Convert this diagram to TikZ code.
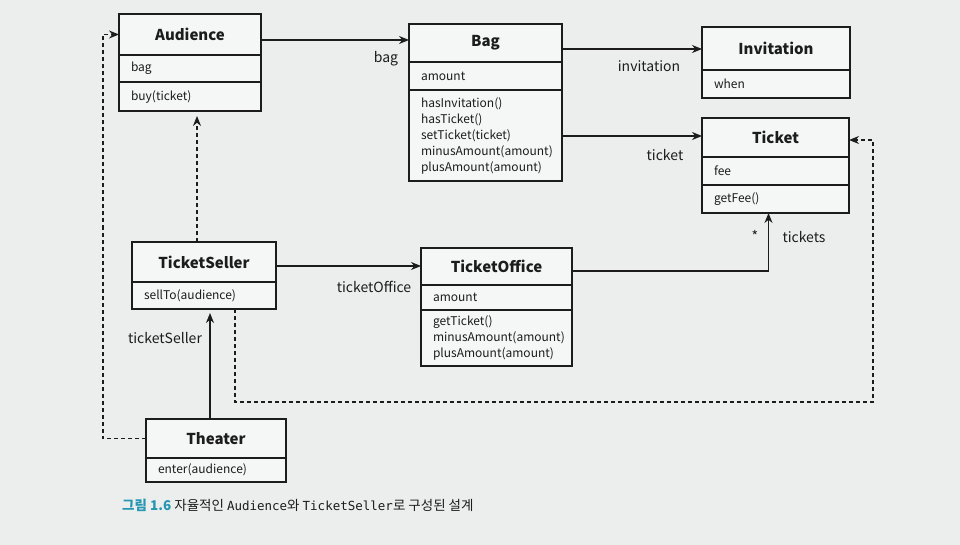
\documentclass[tikz,border=0pt]{standalone}
\usepackage{fontspec}
\setmainfont{Noto Sans CJK KR}
\newfontfamily\capmono{DejaVu Sans Mono}
\usetikzlibrary{arrows.meta,shadows}
\definecolor{pagebg}{RGB}{236,238,237}
\definecolor{boxbg}{RGB}{245,246,246}
\definecolor{ink}{RGB}{28,28,28}
\definecolor{capteal}{RGB}{38,150,178}
\tikzset{
  box/.style={draw=ink, line width=1.2pt, fill=boxbg, anchor=north west,
    inner ysep=0pt, outer sep=0pt, text=ink,
    drop shadow={shadow xshift=1.2pt, shadow yshift=-1.2pt, opacity=.25}},
  ctitle/.style={box, font=\bfseries\fontsize{15}{18}\selectfont,
    text width=#1, inner xsep=0pt, align=center},
  cbody/.style={box, font=\fontsize{12}{16}\selectfont,
    text width=#1, inner xsep=12pt, align=left},
  lbl/.style={font=\fontsize{14}{17}\selectfont, text=ink, inner sep=0pt},
  assoc/.style={draw=ink, line width=1.2pt, -{Stealth[length=10pt,width=8pt]}},
  dep/.style={assoc, dash pattern=on 4pt off 3pt},
}
\begin{document}
\begin{tikzpicture}[x=1pt, y=-1pt]
\useasboundingbox (0,0) rectangle (960,545);
\fill[pagebg] (0,0) rectangle (960,545);

% Audience
\node[ctitle=142pt, minimum height=41pt] (audT) at (119,14) {Audience};
\node[cbody=118pt, minimum height=27pt] (audA) at (audT.south west) {bag};
\node[cbody=118pt, minimum height=29pt] (audM) at (audA.south west) {buy(ticket)};

% Bag
\node[ctitle=153pt, minimum height=38pt] (bagT) at (409,24) {Bag};
\node[cbody=129pt, minimum height=28pt] (bagA) at (bagT.south west) {amount};
\node[cbody=129pt, minimum height=91pt] (bagM) at (bagA.south west)
  {hasInvitation()\\hasTicket()\\setTicket(ticket)\\minusAmount(amount)\\plusAmount(amount)};

% Invitation
\node[ctitle=148pt, minimum height=43pt] (invT) at (702,27) {Invitation};
\node[cbody=124pt, minimum height=28pt] (invA) at (invT.south west) {when};

% Ticket
\node[ctitle=147pt, minimum height=39pt] (tickT) at (702,118) {Ticket};
\node[cbody=123pt, minimum height=28pt] (tickA) at (tickT.south west) {fee};
\node[cbody=123pt, minimum height=28pt] (tickM) at (tickA.south west) {getFee()};

% TicketSeller
\node[ctitle=144pt, minimum height=40pt] (tsT) at (132,242) {TicketSeller};
\node[cbody=120pt, minimum height=27pt] (tsM) at (tsT.south west) {sellTo(audience)};

% TicketOffice
\node[ctitle=151pt, minimum height=37pt] (toT) at (421,248) {TicketOffice};
\node[cbody=127pt, minimum height=25pt] (toA) at (toT.south west) {amount};
\node[cbody=127pt, minimum height=56pt] (toM) at (toA.south west)
  {getTicket()\\minusAmount(amount)\\plusAmount(amount)};

% Theater
\node[ctitle=140pt, minimum height=39pt] (thT) at (146,419) {Theater};
\node[cbody=116pt, minimum height=24pt] (thM) at (thT.south west) {enter(audience)};

% associations
\draw[assoc] (audT.east |- 0,40) -- (bagT.west |- 0,40);
\draw[assoc] (bagT.east |- 0,49) -- (invT.west |- 0,49);
\draw[assoc] (bagM.east |- 0,136) -- (tickT.west |- 0,136);
\draw[assoc] (tsT.east |- 0,266) -- (toT.west |- 0,266);
\draw[assoc] (toT.east |- 0,271) -| ([xshift=-7pt]tickM.south);
\draw[assoc, shorten >=4pt] (thT.north -| 210,0) -- (tsM.south -| 210,0);

% dependencies
\draw[dep, shorten >=5pt] (tsT.north -| 197,0) -- (audM.south -| 197,0);
\draw[dep] (thT.west) -- (thT.west -| 103,0) -- (audT.west -| 103,0) -- (audT.west);
\coordinate (cornerA) at (235,402);
\coordinate (cornerB) at (873,402);
\coordinate (cornerC) at (873,140);
\draw[dep] (tsM.south -| cornerA) -- (cornerA) -- (cornerB) -- (cornerC) -- (tickT.east |- cornerC);

% labels
\node[lbl] (lblBag) at (386,59) {bag};
\node[lbl] (lblInv) at (649,66) {invitation};
\node[lbl] (lblTicket) at (665,155) {ticket};
\node[lbl] (lblTO) at (374,287) {ticketOffice};
\node[lbl] (lblTS) at (165,338) {ticketSeller};
\node[lbl] (lblTickets) at (804,237) {tickets};
\node[lbl] (lblStar) at (755,236) {*};

% caption
\node[anchor=west, inner sep=0pt, text=ink, font=\fontsize{13.5}{16}\selectfont] (caption) at (122,505)
  {{\color{capteal}\bfseries 그림 1.6} 자율적인 {\capmono\fontsize{12.5}{16}\selectfont Audience}와 {\capmono\fontsize{12.5}{16}\selectfont TicketSeller}로 구성된 설계};
\end{tikzpicture}
\end{document}
